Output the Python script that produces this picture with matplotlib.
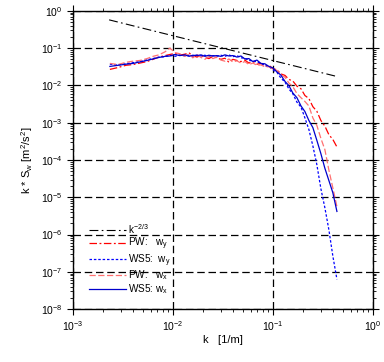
import matplotlib
matplotlib.use("Agg")
import matplotlib.pyplot as plt
import numpy as np

plt.rcParams['font.family'] = ['Liberation Sans', 'DejaVu Sans']
plt.rcParams['mathtext.default'] = 'regular'

k = [0.00234, 0.00282, 0.00339, 0.00398, 0.00468, 0.00550, 0.00631, 0.00724, 0.00832, 0.00933,
     0.0105, 0.0117, 0.0132, 0.0145, 0.0158, 0.0174, 0.0191, 0.0209, 0.0229, 0.0251,
     0.0275, 0.0302, 0.0331, 0.0363, 0.0398, 0.0437, 0.0479, 0.0525, 0.0575, 0.0631,
     0.0692, 0.0759, 0.0832, 0.0912, 0.100, 0.110, 0.120, 0.132, 0.145, 0.158,
     0.174, 0.191, 0.209, 0.229, 0.251, 0.275, 0.302, 0.331, 0.363, 0.398, 0.437]

# log10 of k*S_w
pw_wy_log = [-1.57, -1.52, -1.46, -1.44, -1.40, -1.36, -1.30, -1.24, -1.20, -1.17,
             -1.14, -1.19, -1.16, -1.13, -1.20, -1.24, -1.19, -1.25, -1.28, -1.22,
             -1.26, -1.30, -1.27, -1.38, -1.30, -1.33, -1.36, -1.32, -1.40, -1.36,
             -1.43, -1.41, -1.48, -1.46, -1.55, -1.58, -1.69, -1.73, -1.84, -1.88,
             -2.02, -2.09, -2.27, -2.35, -2.57, -2.69, -2.94, -3.09, -3.32, -3.45, -3.65]
ws5_wy_log = [-1.43, -1.45, -1.42, -1.39, -1.36, -1.31, -1.28, -1.24, -1.23, -1.19,
              -1.22, -1.18, -1.21, -1.19, -1.22, -1.18, -1.21, -1.19, -1.23, -1.20,
              -1.22, -1.19, -1.22, -1.18, -1.23, -1.20, -1.26, -1.27, -1.33, -1.34,
              -1.37, -1.40, -1.47, -1.49, -1.58, -1.65, -1.80, -1.91, -2.10, -2.22,
              -2.45, -2.58, -2.87, -3.18, -3.62, -4.12, -4.77, -5.28, -5.87, -6.58, -7.20]
pw_wx_log = [-1.41, -1.44, -1.38, -1.35, -1.33, -1.28, -1.22, -1.18, -1.10, -1.00,
             -1.12, -1.15, -1.22, -1.15, -1.26, -1.18, -1.25, -1.30, -1.22, -1.28,
             -1.24, -1.32, -1.35, -1.29, -1.37, -1.34, -1.40, -1.36, -1.44, -1.40,
             -1.46, -1.45, -1.50, -1.50, -1.56, -1.60, -1.71, -1.78, -1.94, -2.03,
             -2.22, -2.33, -2.43, -2.55, -2.87, -3.07, -3.42, -3.72, -4.27, -4.75, -5.25]
ws5_wx_log = [-1.49, -1.46, -1.43, -1.41, -1.37, -1.33, -1.29, -1.25, -1.22, -1.21,
              -1.17, -1.20, -1.18, -1.22, -1.19, -1.20, -1.18, -1.22, -1.19, -1.21,
              -1.20, -1.22, -1.18, -1.21, -1.20, -1.24, -1.21, -1.29, -1.28, -1.36,
              -1.32, -1.41, -1.42, -1.49, -1.53, -1.64, -1.72, -1.89, -2.01, -2.20,
              -2.33, -2.55, -2.70, -2.94, -3.13, -3.47, -3.83, -4.22, -4.55, -4.88, -5.38]

ref_k = [0.0023, 0.44]
ref_coef = 0.01
ref_exp = -2.0 / 3.0

k_arr = np.array(k)
fig = plt.figure(figsize=(3.84, 3.62), dpi=100)
ax = fig.add_axes([0.190, 0.146, 0.781, 0.824])

rk = np.array(ref_k)
ax.plot(rk, ref_coef * rk ** ref_exp, color='black', lw=0.8, ls=(0, (8, 3, 1.5, 3)),
        label=r'k$^{-2/3}$')
ax.plot(k_arr, 10 ** np.array(pw_wy_log), color='#ff0000', lw=0.9, ls=(0, (6, 2, 1.5, 2)),
        label=r'PW:   w$_y$')
ax.plot(k_arr, 10 ** np.array(ws5_wy_log), color='#0000ff', lw=0.9, ls=(0, (2, 1.5)),
        label=r'WS5:  w$_y$')
ax.plot(k_arr, 10 ** np.array(pw_wx_log), color='#ff7070', lw=0.9, ls=(0, (5, 2)),
        label=r'PW:   w$_x$')
ax.plot(k_arr, 10 ** np.array(ws5_wx_log), color='#0000cc', lw=0.9, ls='-',
        label=r'WS5: w$_x$')

ax.set_xscale('log')
ax.set_yscale('log')
ax.set_xlim(1e-3, 1)
ax.set_ylim(1e-8, 1)
ax.grid(True, which='major', color='black', ls=(0, (6, 3)), lw=0.9)
ax.tick_params(which='both', direction='out', top=True, right=True, labelsize=7.5)
ax.tick_params(which='major', length=4)
ax.tick_params(which='minor', length=2.5)
ax.set_yticks([10.0 ** e for e in range(-8, 1)])
for s in ax.spines.values():
    s.set_linewidth(1.0)

ax.set_xlabel('k   [1/m]', fontsize=8, labelpad=1)
ax.set_ylabel(r'k * S$_w$ [m$^2$/s$^2$]', fontsize=8, labelpad=4)

leg = ax.legend(loc='upper left', bbox_to_anchor=(0.055, 0.292), frameon=False,
                fontsize=7.2, handlelength=3.7, handletextpad=0.2, labelspacing=0.0,
                borderpad=0, borderaxespad=0)

fig.savefig('out.png', dpi=100)
